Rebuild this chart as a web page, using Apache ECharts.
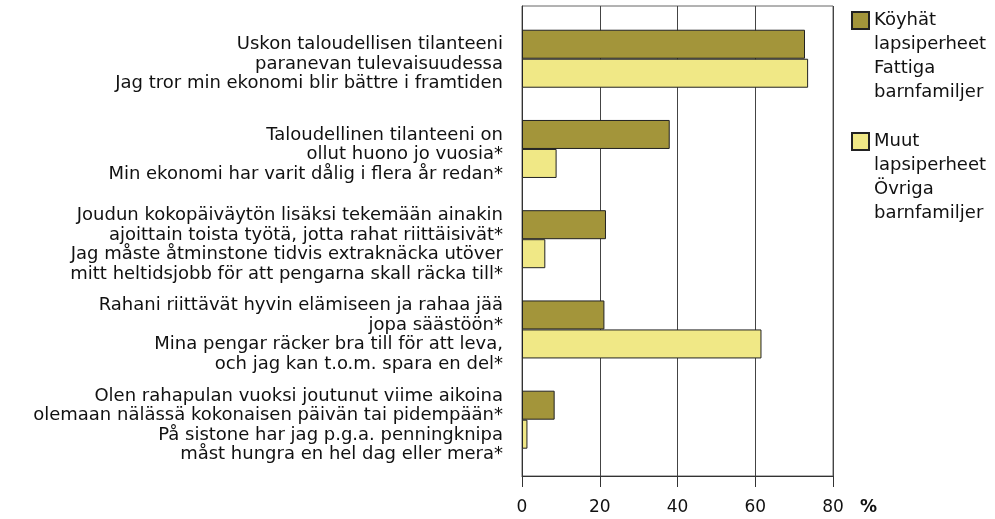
<!DOCTYPE html>
<html>
<head>
<meta charset="utf-8">
<script src="https://cdn.jsdelivr.net/npm/echarts@6/dist/echarts.min.js"></script>
<style>
  html, body { margin: 0; padding: 0; background: #fff; }
  #chart { width: 995px; height: 519px; }
</style>
</head>
<body>
<div id="chart"></div>
<script>
const categories = [
  'Uskon taloudellisen tilanteeni\nparanevan tulevaisuudessa\nJag tror min ekonomi blir bättre i framtiden',
  'Taloudellinen tilanteeni on\nollut huono jo vuosia*\nMin ekonomi har varit dålig i flera år redan*',
  'Joudun kokopäiväytön lisäksi tekemään ainakin\najoittain toista työtä, jotta rahat riittäisivät*\nJag måste åtminstone tidvis extraknäcka utöver\nmitt heltidsjobb för att pengarna skall räcka till*',
  'Rahani riittävät hyvin elämiseen ja rahaa jää\njopa säästöön*\nMina pengar räcker bra till för att leva,\noch jag kan t.o.m. spara en del*',
  'Olen rahapulan vuoksi joutunut viime aikoina\nolemaan nälässä kokonaisen päivän tai pidempään*\nPå sistone har jag p.g.a. penningknipa\nmåst hungra en hel dag eller mera*'
];
const poorName = 'Köyhät\nlapsiperheet\nFattiga\nbarnfamiljer';
const otherName = 'Muut\nlapsiperheet\nÖvriga\nbarnfamiljer';
const poorValues = [72.8, 38.0, 21.6, 21.2, 8.4];
const otherValues = [73.6, 8.9, 6.0, 61.6, 1.4];

const font = 'DejaVu Sans, Verdana, sans-serif';
const chart = echarts.init(document.getElementById('chart'));

// 3 blank lines first so the first text line sits level with the icon
const legendBase = {
  orient: 'vertical', left: 851, padding: 0,
  itemWidth: 17, itemHeight: 17, icon: 'rect', selectedMode: false,
  formatter: name => '\n\n\n' + name,
  textStyle: { fontFamily: font, fontSize: 18, color: '#111', lineHeight: 24 }
};

chart.setOption({
  animation: false,
  textStyle: { fontFamily: font },
  grid: [
    { left: 522, top: 6, width: 311, height: 470, show: true, borderColor: '#666', borderWidth: 1, outerBoundsMode: 'none', containLabel: false },
    { left: 522, top: 13.6, width: 311, height: 451.2, outerBoundsMode: 'none', containLabel: false },
    { left: 522, top: 19.1, width: 311, height: 451.2, outerBoundsMode: 'none', containLabel: false }
  ],
  legend: [
    Object.assign({}, legendBase, { data: [poorName], top: -63.5 }),
    Object.assign({}, legendBase, { data: [otherName], top: 57.5 })
  ],
  xAxis: [
    {
      gridIndex: 0, type: 'value', min: 0, max: 80, interval: 20,
      axisLine: { show: true, lineStyle: { color: '#333', width: 1 } },
      axisTick: { show: true, length: 11, lineStyle: { color: '#333' } },
      axisLabel: { margin: 23, fontSize: 17, color: '#111', fontFamily: font },
      splitLine: { show: true, lineStyle: { color: '#444', width: 1 } },
      name: '%', nameLocation: 'end', nameGap: 27,
      nameTextStyle: { fontSize: 17, fontWeight: 'bold', color: '#111', fontFamily: font, verticalAlign: 'top', lineHeight: 63 }
    },
    { gridIndex: 1, type: 'value', min: 0, max: 80, show: false },
    { gridIndex: 2, type: 'value', min: 0, max: 80, show: false }
  ],
  yAxis: [
    {
      gridIndex: 0, type: 'category', data: [''],
      axisLine: { show: true, lineStyle: { color: '#333' } },
      axisTick: { show: false }, axisLabel: { show: false }
    },
    {
      gridIndex: 1, type: 'category', data: categories, inverse: true,
      axisLine: { show: false }, axisTick: { show: false }, axisLabel: { show: false }
    },
    {
      gridIndex: 2, type: 'category', data: categories, inverse: true,
      axisLine: { show: false }, axisTick: { show: false },
      axisLabel: { margin: 19, fontSize: 18, lineHeight: 19.5, color: '#111', fontFamily: font, padding: [8, 0, 0, 0] }
    }
  ],
  series: [
    {
      name: poorName, type: 'bar', xAxisIndex: 1, yAxisIndex: 1,
      data: poorValues, barWidth: 29, barGap: '0%',
      itemStyle: { color: '#A3953A', borderColor: '#222', borderWidth: 1 }
    },
    {
      name: otherName, type: 'bar', xAxisIndex: 1, yAxisIndex: 1,
      data: otherValues, barWidth: 29, barGap: '0%',
      itemStyle: { color: '#F0E886', borderColor: '#222', borderWidth: 1 }
    }
  ]
});
</script>
</body>
</html>
